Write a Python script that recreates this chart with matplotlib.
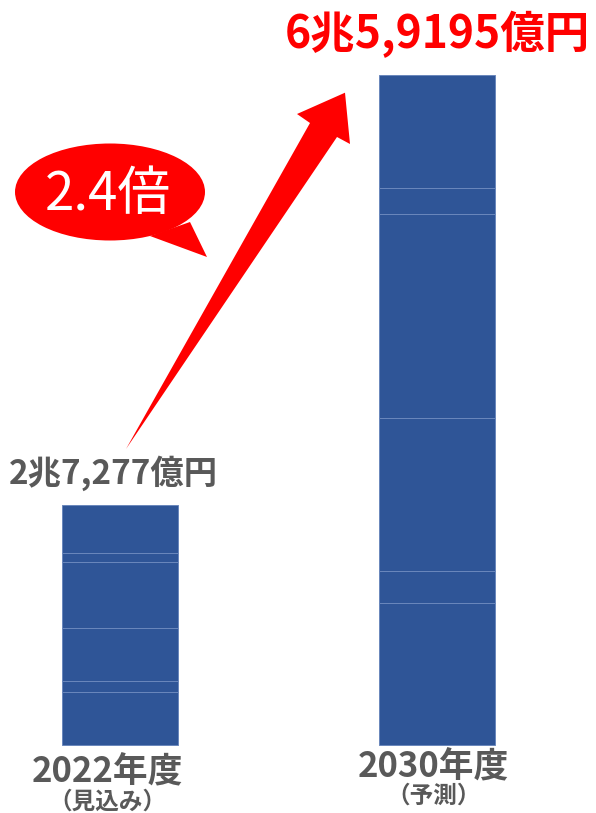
import matplotlib
matplotlib.use("Agg")
import matplotlib.pyplot as plt
from matplotlib.patches import Ellipse, Polygon

plt.rcParams["font.family"] = ["Noto Sans CJK JP", "DejaVu Sans"]

# categories and labels
years = ["2022年度", "2030年度"]
notes = ["（見込み）", "（予測）"]
totals = ["2兆7,277億円", "6兆5,9195億円"]
total_colors = ["#595959", "#FF0000"]
ratio_text = "2.4倍"

# stacked segment heights (bottom -> top) (chart units)
seg_2022 = [52.7, 11.0, 53.3, 65.7, 9.0, 47.8]
seg_2030 = [141.7, 32.3, 152.7, 204.3, 25.7, 113.0]
segments = [seg_2022, seg_2030]

bar_color = "#2F5597"
edge_color = "#6A87BC"

fig = plt.figure(figsize=(5.96, 8.13), dpi=100)
ax = fig.add_axes([0, 0, 1, 1])

for i, segs in enumerate(segments):
    bottom = 0
    for h in segs:
        ax.bar(i, h, bottom=bottom, width=0.363, color=bar_color,
               edgecolor=edge_color, linewidth=0.7)
        bottom += h

tot_2022 = sum(seg_2022)
tot_2030 = sum(seg_2030)
ax.text(0 - 0.02, tot_2022 + 32, totals[0], ha="center", va="center",
        fontsize=24, fontweight="bold", color=total_colors[0])
ax.text(1, tot_2030 + 41, totals[1], ha="center", va="center",
        fontsize=32, fontweight="bold", color=total_colors[1])

ax.text(0 - 0.04, -27, years[0], ha="center", va="center", fontsize=25,
        fontweight="bold", color="#595959")
ax.text(0 - 0.04, -57, notes[0], ha="center", va="center", fontsize=17,
        fontweight="bold", color="#595959")
ax.text(1 - 0.01, -22, years[1], ha="center", va="center", fontsize=25,
        fontweight="bold", color="#595959")
ax.text(1 - 0.01, -51, notes[1], ha="center", va="center", fontsize=17,
        fontweight="bold", color="#595959")

ax.set_xlim(-120 / 317, 476 / 317)
ax.set_ylim(-68, 745)
ax.axis("off")

# overlay in pixel coords for the arrow and speech bubble
ov = fig.add_axes([0, 0, 1, 1])
ov.set_xlim(0, 596)
ov.set_ylim(813, 0)
ov.axis("off")
ov.patch.set_alpha(0)

arrow = Polygon([(126, 449), (310, 123), (297, 114), (345, 92.7),
                 (350, 144), (337, 137)], closed=True, color="#FF0000", lw=0)
ov.add_patch(arrow)

ov.add_patch(Ellipse((110, 192), 190, 97, color="#FF0000", lw=0))
ov.add_patch(Polygon([(150, 236), (190, 222), (207, 257)], closed=True,
                     color="#FF0000", lw=0))
ov.text(108, 194, ratio_text, ha="center", va="center", fontsize=38,
        color="white")

plt.savefig("out.png", dpi=100)
